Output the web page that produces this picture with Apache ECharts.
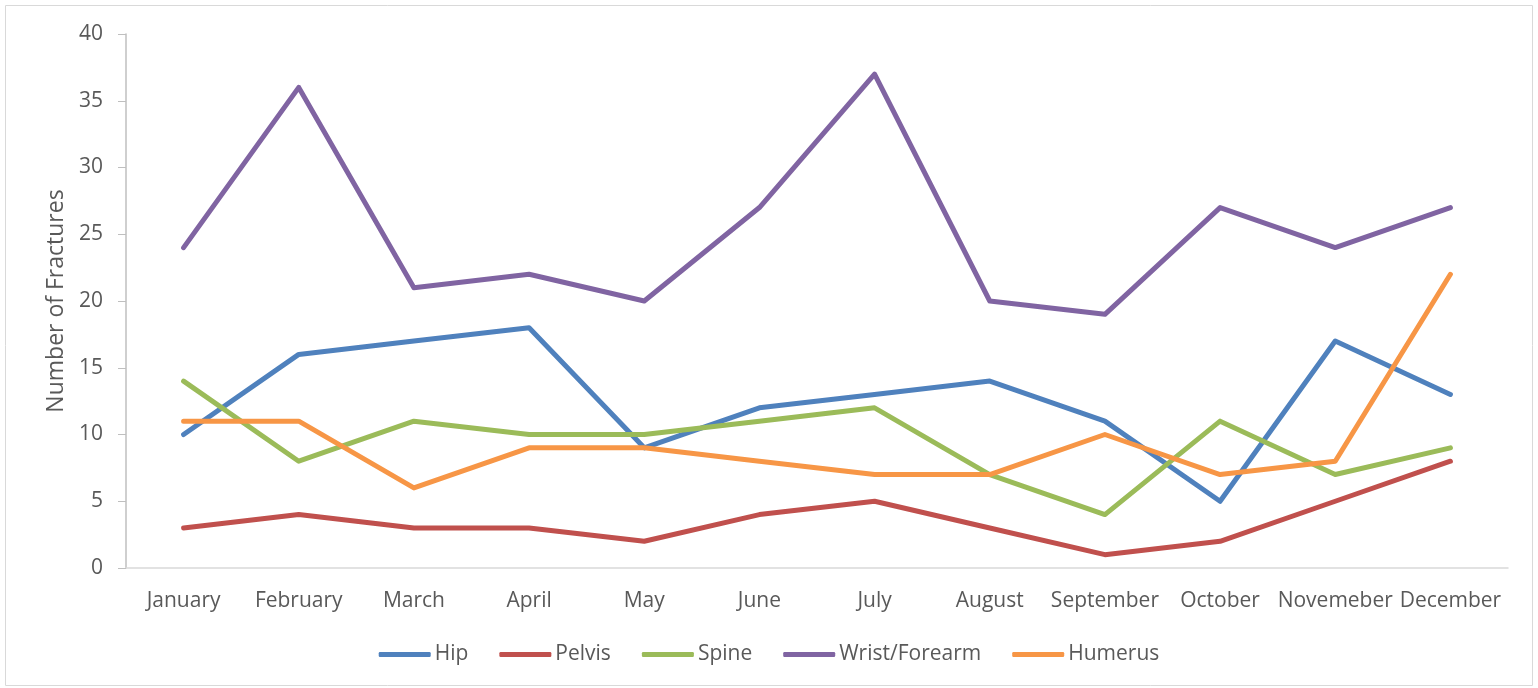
<!DOCTYPE html>
<html><head><meta charset="utf-8">
<script src="https://cdn.jsdelivr.net/npm/echarts@6/dist/echarts.min.js"></script>
<style>html,body{margin:0;padding:0;background:#fff}#c{width:1538px;height:688px}</style>
</head><body><div id="c"></div>
<script>
const months = ['January','February','March','April','May','June','July','August','September','October','Novemeber','December'];
const hip = [10,16,17,18,9,12,13,14,11,5,17,13];
const pelvis = [3,4,3,3,2,4,5,3,1,2,5,8];
const spine = [14,8,11,10,10,11,12,7,4,11,7,9];
const wrist = [24,36,21,22,20,27,37,20,19,27,24,27];
const humerus = [11,11,6,9,9,8,7,7,10,7,8,22];
const seriesNames = ['Hip','Pelvis','Spine','Wrist/Forearm','Humerus'];
const colors = ['#4F81BD','#C0504D','#9BBB59','#8064A2','#F79646'];
const dataSets = [hip, pelvis, spine, wrist, humerus];
const font = '"Open Sans", "Liberation Sans", sans-serif';
const chart = echarts.init(document.getElementById('c'));
chart.setOption({
  animation: false,
  color: colors,
  graphic: [{type:'rect', shape:{x:5.5,y:5.5,width:1527,height:680}, style:{fill:'none', stroke:'#D9D9D9', lineWidth:1}, silent:true}],
  grid: {left:126, right:30, top:34, bottom:120},
  legend: {
    bottom: 18, left: 'center', itemWidth: 52, itemHeight: 5, itemGap: 31,
    icon: 'roundRect',
    textStyle: {color:'#595959', fontSize:21, fontFamily:font, padding:[0,0,0,-1]},
    data: seriesNames
  },
  xAxis: {
    type:'category', data: months, boundaryGap:true,
    axisLine:{lineStyle:{color:'#D9D9D9', width:1.5}},
    axisTick:{show:false},
    axisLabel:{color:'#595959', fontSize:21, fontFamily:font, margin:23, interval:0}
  },
  yAxis: {
    type:'value', min:0, max:40, interval:5,
    name:'Number of Fractures', nameLocation:'middle', nameGap:58, nameRotate:90,
    nameTextStyle:{color:'#595959', fontSize:23, fontFamily:font},
    axisLine:{show:true, lineStyle:{color:'#BFBFBF', width:1.5}},
    axisTick:{show:true, inside:false, length:8, lineStyle:{color:'#BFBFBF'}},
    splitLine:{show:false},
    axisLabel:{color:'#595959', fontSize:21, fontFamily:font, margin:23}
  },
  series: seriesNames.map((n,i)=>({
    name:n, type:'line', data:dataSets[i], symbol:'none',
    lineStyle:{width:5, color:colors[i], cap:'round', join:'round'}
  }))
});
</script></body></html>
